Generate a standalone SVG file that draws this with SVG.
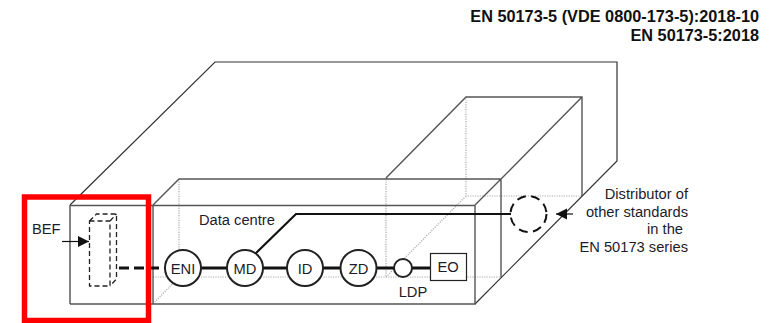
<svg xmlns="http://www.w3.org/2000/svg" width="778" height="323" viewBox="0 0 778 323">
<style>
text{font-family:"Liberation Sans",Arial,sans-serif;font-size:14.700px;fill:#1c1c2c}
.c{text-anchor:middle}.r{text-anchor:end}
.h{font-weight:bold;font-size:16.300px;fill:#111}
.l{fill:none;stroke:#333;stroke-width:1.2}
.g{fill:none;stroke:#555;stroke-width:1.4}
.d{fill:none;stroke:#aaa;stroke-width:1.2;stroke-dasharray:1.2 1.2}
.t{fill:none;stroke:#111;stroke-width:3}
.n{fill:#fff;stroke:#222;stroke-width:2}
.b{fill:none;stroke:#222;stroke-width:1.300;stroke-dasharray:5 3}
</style>
<defs><marker id="a" markerUnits="userSpaceOnUse" markerWidth="12" markerHeight="12" refX="11" refY="6" orient="auto"><path d="M0 0.5L11 6L0 11.5Z" fill="#111"/></marker></defs>
<g id="enclosure">
<path class="d" d="M179 179V277M153 277H501M386 179V277M466 97V196H582M466 196L386 277M153 304L179 277"/>
<path class="l" d="M70 205L215 62H617V161L475 304M70 205V304"/>
<path class="g" d="M70 205.500H475V304H70M153 205V304M153 205L179 179H501V277M475 205L501 179M386 178L466 97H582V196M582 97L501 179"/>
</g>
<g id="connectors">
<path class="t" stroke-dasharray="10 5" d="M119 268H165"/>
<path class="t" d="M183 268H403M403 268H430"/>
<path fill="none" stroke="#111" stroke-width="2.200" d="M255 254L296 214H511"/>
<path fill="none" stroke="#111" stroke-width="1.200" marker-end="url(#a)" d="M62 241.500H89"/>
<path fill="none" stroke="#111" stroke-width="1.200" marker-end="url(#a)" d="M573 214H556"/>
</g>
<g id="BEF"><text x="32" y="234">BEF</text>
<path class="b" d="M89.500 221H110V286H89.500ZM89.500 221L96.500 214H116.500V279L110 286M110 221L116.500 214"/></g>
<g id="ENI"><circle class="n" cx="183" cy="268" r="18"/><text class="c" x="183" y="274">ENI</text></g>
<g id="MD"><circle class="n" cx="245" cy="268" r="18"/><text class="c" x="245" y="274">MD</text></g>
<g id="ID"><circle class="n" cx="305" cy="268" r="18"/><text class="c" x="305" y="274">ID</text></g>
<g id="ZD"><circle class="n" cx="358.500" cy="268" r="18"/><text class="c" x="358.500" y="274">ZD</text></g>
<g id="LDP"><circle class="n" cx="403" cy="268" r="9"/><text class="c" x="413" y="297">LDP</text></g>
<g id="EO"><rect x="430.500" y="253.500" width="36" height="27" fill="#fff" stroke="#222" stroke-width="1.200"/><text class="c" x="448" y="272">EO</text></g>
<g id="distributor"><circle cx="528.500" cy="214" r="18" fill="none" stroke="#111" stroke-width="2" stroke-dasharray="9 5.500"/>
<text class="r" x="688" y="199">Distributor of</text><text class="r" x="688" y="217">other standards</text><text class="r" x="683" y="234">in the</text><text class="r" x="688" y="252">EN 50173 series</text></g>
<g id="label"><text x="199" y="225">Data centre</text></g>
<g id="title"><text class="h r" x="759" y="22">EN 50173-5 (VDE 0800-173-5):2018-10</text><text class="h r" x="759" y="41">EN 50173-5:2018</text></g>
<rect id="highlight" x="24.500" y="197" width="124" height="123.500" fill="none" stroke="#f00" stroke-width="5.500"/>
</svg>
